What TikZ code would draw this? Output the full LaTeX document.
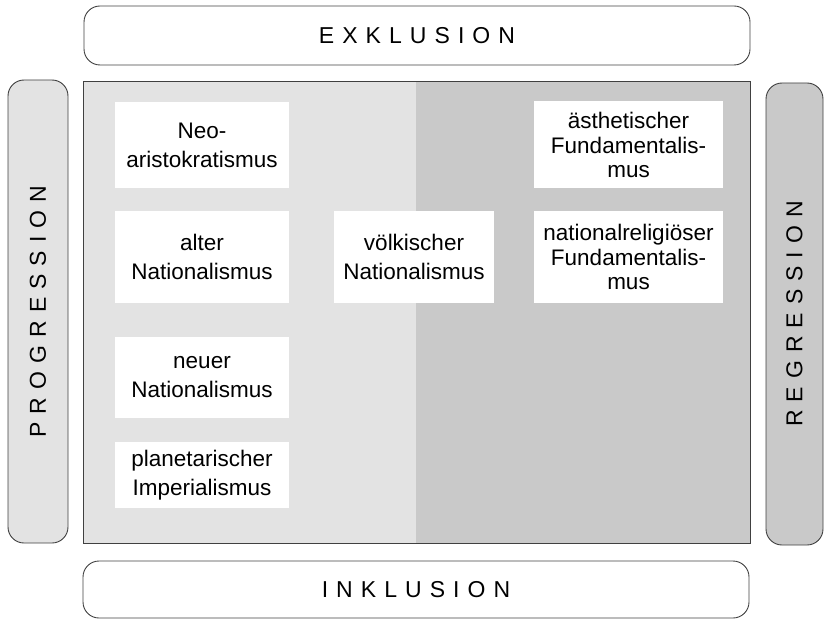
\documentclass[tikz,border=0pt]{standalone}
\usepackage{fontspec}
\setmainfont{Liberation Sans}
\newfontfamily\spacedfont[LetterSpace=35]{Liberation Sans}

\definecolor{fieldlight}{gray}{0.89}
\definecolor{fielddark}{gray}{0.79}
\definecolor{rimgrey}{gray}{0.25}

\tikzset{
  frame/.style={draw=rimgrey, line width=0.9pt, rounded corners=16pt, inner sep=0pt,
                font=\spacedfont\fontsize{23}{28}\selectfont},
  cell/.style={fill=white, inner sep=0pt, align=center, minimum width=174pt,
               font=\fontsize{22.5}{29}\selectfont},
  tight/.style={font=\fontsize{22.5}{24.5}\selectfont}
}

\begin{document}
\begin{tikzpicture}[x=1pt,y=-1pt]
  \useasboundingbox (0,0) rectangle (826,620);

  % the field
  \fill [fieldlight] (83,81) rectangle (416,543);
  \fill [fielddark]  (416,81) rectangle (750,543);
  \draw [rimgrey, line width=0.9pt] (83,81) rectangle (750,543);

  % axes round the field
  \node [frame, minimum width=666pt, minimum height=59pt] (exkl) at (417,35.5) {EXKLUSION};
  \node [frame, minimum width=666pt, minimum height=57pt] (inkl) at (416,589.5) {INKLUSION};
  \node [frame, fill=fieldlight, rotate=90, minimum width=463pt, minimum height=60pt] (progr) at (38,311.5) {PROGRESSION};
  \node [frame, fill=fielddark, rotate=90, minimum width=462pt, minimum height=57pt] (regr) at (794.5,314) {REGRESSION};

  % left column
  \node [cell, minimum height=86pt] (neo)    at (202,145)   {Neo-\\aristokratismus};
  \node [cell, minimum height=92pt] (alter)  at (202,257)   {alter\\Nationalismus};
  \node [cell, minimum height=81pt] (neuer)  at (202,377.5) {neuer\\Nationalismus};
  \node [cell, minimum height=66pt] (planet) at (202,475)   {planetarischer\\Imperialismus};

  % middle
  \node [cell, minimum width=160pt, minimum height=92pt] (voelk) at (414,257) {völkischer\\Nationalismus};

  % right column
  \node [cell, tight, minimum width=189pt, minimum height=87pt] (aesth) at (628.5,145) {ästhetischer\\Fundamentalis-\\mus};
  \node [cell, tight, minimum width=189pt, minimum height=91pt] (nrel)  at (628.5,257) {nationalreligiöser\\Fundamentalis-\\mus};
\end{tikzpicture}
\end{document}
